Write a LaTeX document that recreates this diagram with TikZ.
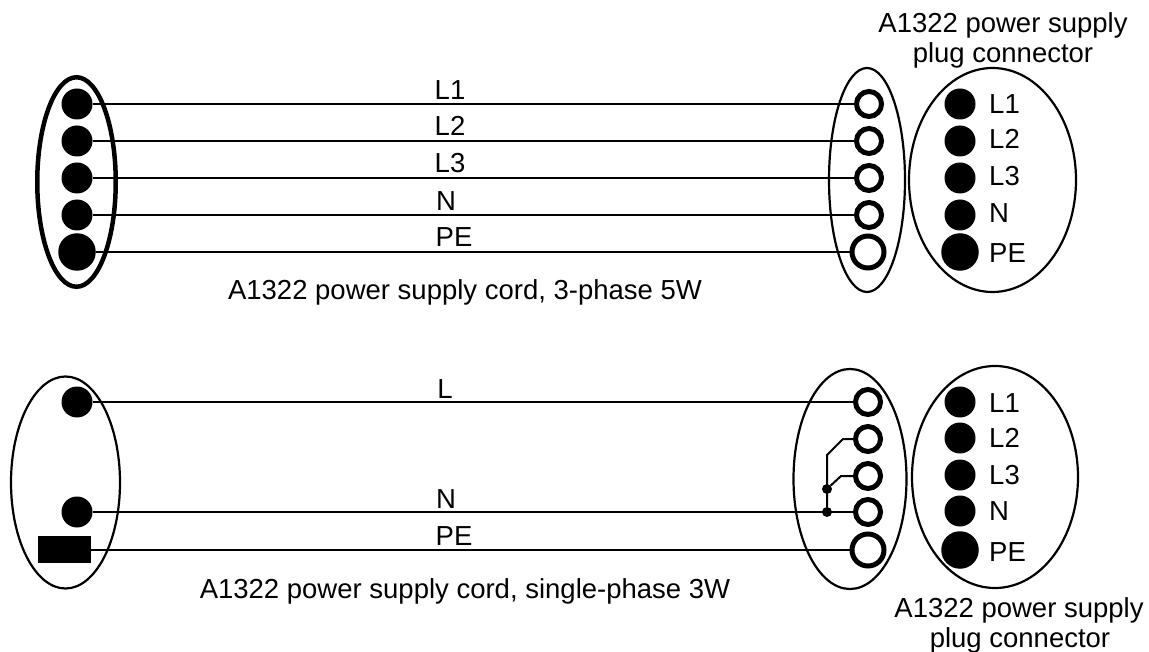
\documentclass[tikz,border=0pt]{standalone}
\usepackage{fontspec}
\setmainfont{Liberation Sans}
\usetikzlibrary{shapes.geometric}
\tikzset{
  px/.style={x=1pt,y=-1pt},
  dotA/.style={circle,fill=black,inner sep=0pt,minimum size=31pt},
  dotB/.style={circle,fill=black,inner sep=0pt,minimum size=37.5pt},
  ringA/.style={circle,draw=black,line width=5pt,fill=white,inner sep=0pt,minimum size=25pt},
  ringB/.style={circle,draw=black,line width=5pt,fill=white,inner sep=0pt,minimum size=32pt},
  jn/.style={circle,fill=black,inner sep=0pt,minimum size=10pt},
  shell/.style={ellipse,draw=black,line width=2.2pt,inner sep=0pt},
  wire/.style={draw=black,line width=2.5pt},
  thinwire/.style={draw=black,line width=2pt},
  txt/.style={font=\fontsize{27.5}{30}\selectfont,inner sep=0pt,text=black,anchor=base},
  pin/.style={txt,anchor=base west},
}
\begin{document}
\begin{tikzpicture}[px]
\useasboundingbox (0,0) rectangle (1149,652);
% ---- top
\node[shell,line width=4.5pt,minimum width=78.5pt,minimum height=209.5pt] (e1) at (76.5,182) {};
\node[shell,minimum width=76pt,minimum height=224pt] (e2) at (867,180) {};
\node[shell,minimum width=167pt,minimum height=224pt] (e3) at (992.5,180) {};
\foreach \n/\y in {a/104,b/141,c/178,d/215}{
  \node[dotA] (tl\n) at (77,\y) {};
  \node[ringA] (tr\n) at (869,\y) {};
  \node[dotA] (tp\n) at (960,\y) {};
}
\node[dotB] (tle) at (77,252) {};
\node[ringB] (tre) at (868,252) {};
\node[dotB] (tpe) at (960,252) {};
\foreach \n in {a,b,c,d,e}{ \draw[wire] (tl\n) -- (tr\n); }
\node[txt] at (450,100) {L1};
\node[txt] at (450,136) {L2};
\node[txt] at (450,173) {L3};
\node[txt] at (446,211) {N};
\node[txt] at (454,247) {PE};
\node[pin] at (989,114) {L1};
\node[pin] at (989,149) {L2};
\node[pin] at (989,186) {L3};
\node[pin] at (989,223) {N};
\node[pin] at (989,263) {PE};
\node[txt] at (465,300) {A1322 power supply cord, 3-phase 5W};
\node[txt] at (1003,33) {A1322 power supply};
\node[txt] at (1003,63) {plug connector};
% ---- bottom
\node[shell,minimum width=109pt,minimum height=212pt] (f1) at (65.5,482.5) {};
\node[shell,minimum width=113pt,minimum height=220pt] (f2) at (850,479) {};
\node[shell,minimum width=166pt,minimum height=222pt] (f3) at (995,477) {};
\node[dotA] (bla) at (77,402) {};
\node[dotA] (bld) at (77,512) {};
\node[fill=black,inner sep=0pt,minimum width=53pt,minimum height=27pt] (ble) at (64.5,549.5) {};
\foreach \n/\y in {a/402,b/439,c/476,d/512}{
  \node[ringA] (br\n) at (868,\y) {};
}
\node[ringB] (bre) at (868,550) {};
\foreach \n/\y in {a/402,b/438,c/475,d/511}{ \node[dotA] (bp\n) at (960,\y) {}; }
\node[dotB] (bpe) at (960,550) {};
\draw[wire] (bla) -- (bra);
\draw[wire] (bld) -- (brd);
\draw[wire] (ble.east |- bre) -- (bre);
\node[jn] (j1) at (827,489) {};
\node[jn] (j2) at (827,512) {};
\coordinate (k1) at (843,439);
\coordinate (k2) at (827,455);
\coordinate (k3) at (841,476);
\draw[thinwire] (brb) -- (k1) -- (k2) -- (j2);
\draw[thinwire] (brc) -- (k3) -- (j1);
\node[txt] at (445,398) {L};
\node[txt] at (446,508) {N};
\node[txt] at (454,545) {PE};
\node[pin] at (989,412) {L1};
\node[pin] at (989,447) {L2};
\node[pin] at (989,484) {L3};
\node[pin] at (989,520) {N};
\node[pin] at (989,561) {PE};
\node[txt] at (465,598) {A1322 power supply cord, single-phase 3W};
\node[txt] at (1019,617) {A1322 power supply};
\node[txt] at (1020,647) {plug connector};
\end{tikzpicture}
\end{document}
